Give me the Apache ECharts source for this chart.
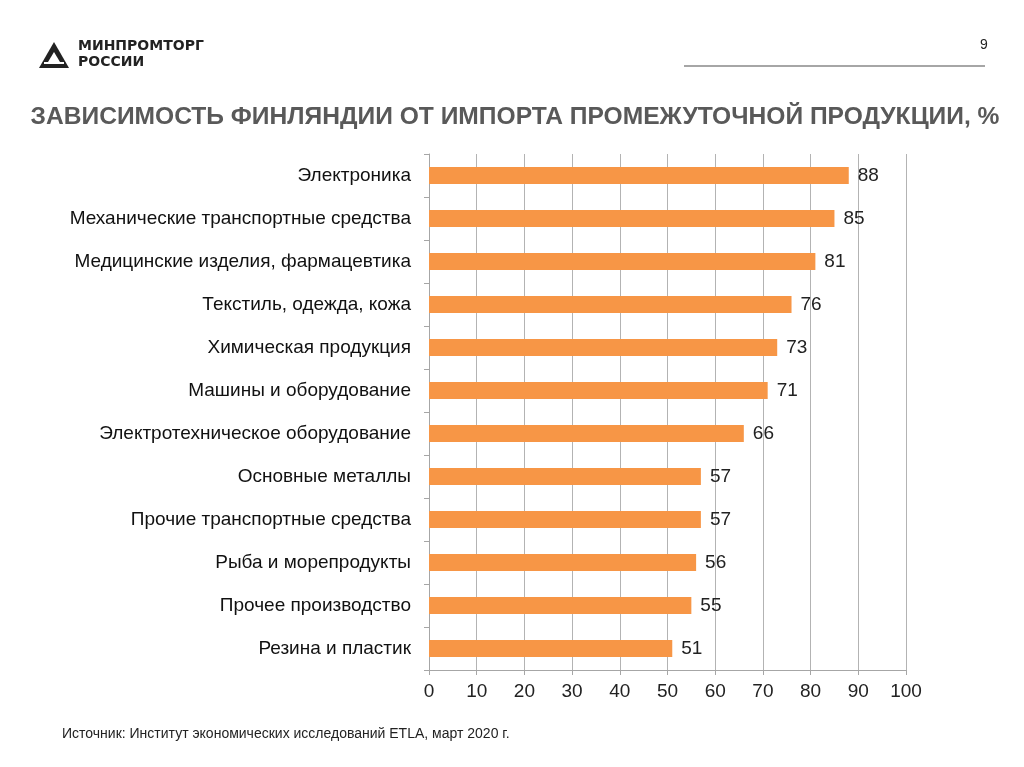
<!DOCTYPE html>
<html><head><meta charset="utf-8">
<script src="https://cdn.jsdelivr.net/npm/echarts@6/dist/echarts.min.js"></script>
<style>html,body{margin:0;padding:0;background:#fff}#c{width:1024px;height:767px}</style>
</head><body><div id="c"></div>
<script>
const categories = ["Электроника","Механические транспортные средства","Медицинские изделия, фармацевтика","Текстиль, одежда, кожа","Химическая продукция","Машины и оборудование","Электротехническое оборудование","Основные металлы","Прочие транспортные средства","Рыба и морепродукты","Прочее производство","Резина и пластик"];
const values = [88,85,81,76,73,71,66,57,57,56,55,51];
const xTicks = {min:0,max:100,interval:10};

const chart = echarts.init(document.getElementById('c'));
chart.setOption({
  backgroundColor:'#fff',
  animation:false,
  grid:{left:429,right:118,top:154,bottom:97,containLabel:false},
  xAxis:{type:'value',min:xTicks.min,max:xTicks.max,interval:xTicks.interval,
    axisLine:{show:true,lineStyle:{color:'#a6a6a6'}},
    axisTick:{show:true,length:5,lineStyle:{color:'#a6a6a6'}},
    splitLine:{show:true,lineStyle:{color:'#b3b3b3',width:1}},
    axisLabel:{color:'#222',fontSize:19,fontFamily:'Liberation Sans, Arial',margin:12}},
  yAxis:{type:'category',data:categories,inverse:true,
    axisLine:{show:true,lineStyle:{color:'#a6a6a6'}},
    axisTick:{show:true,length:5,alignWithLabel:false,lineStyle:{color:'#a6a6a6'}},
    axisLabel:{color:'#111',fontSize:19,fontFamily:'Liberation Sans, Arial',margin:18}},
  series:[{type:'bar',data:values,barWidth:17,itemStyle:{color:'#F79646'},
    label:{show:true,position:'right',distance:9,color:'#222',fontSize:19,fontFamily:'Liberation Sans, Arial'}}],
  graphic:[
    {type:'polygon',shape:{points:[[39,68],[54,42],[69,68]]},style:{fill:'#222'}},
    {type:'polygon',shape:{points:[[48,62],[54,52],[60,62]]},style:{fill:'#fff'}},
    {type:'rect',shape:{x:44,y:62,width:20,height:2},style:{fill:'#fff'}},
    {type:'text',left:78,top:39,style:{text:'МИНПРОМТОРГ',font:'bold 14px DejaVu Sans, Arial',fill:'#222'}},
    {type:'text',left:78,top:55,style:{text:'РОССИИ',font:'bold 14px DejaVu Sans, Arial',fill:'#222'}},
    {type:'text',left:980,top:38,style:{text:'9',font:'14px Liberation Sans, Arial',fill:'#222'}},
    {type:'line',shape:{x1:684,y1:66,x2:985,y2:66},style:{stroke:'#888',lineWidth:1.5}},
    {type:'text',x:515,y:117,style:{text:'ЗАВИСИМОСТЬ ФИНЛЯНДИИ ОТ ИМПОРТА ПРОМЕЖУТОЧНОЙ ПРОДУКЦИИ, %',font:'bold 24.6px Liberation Sans, Arial',fill:'#595959',textAlign:'center',textVerticalAlign:'middle'}},
    {type:'text',left:62,top:727,style:{text:'Источник: Институт экономических исследований ETLA, март 2020 г.',font:'14px Liberation Sans, Arial',fill:'#222'}}
  ]
});
</script></body></html>
